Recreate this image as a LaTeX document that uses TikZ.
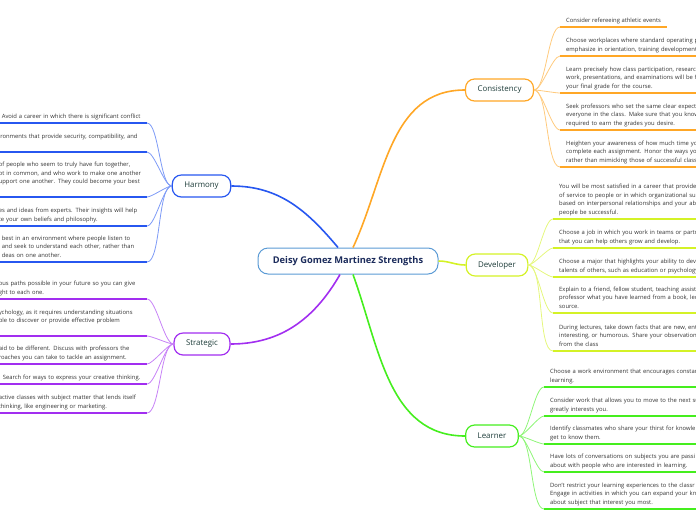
\documentclass[tikz,border=0pt]{standalone}
\usepackage{fontspec}
\setmainfont{Open Sans}
\definecolor{rootblue}{HTML}{5B9BD5}
\definecolor{rootnavy}{HTML}{1B2B5B}
\definecolor{topictext}{HTML}{1E3D3A}
\definecolor{itemtext}{HTML}{333333}
\definecolor{hblue}{HTML}{2757F0}
\definecolor{corange}{HTML}{FFA726}
\definecolor{dlime}{HTML}{D4F226}
\definecolor{lgreen}{HTML}{45EE1E}
\definecolor{spurple}{HTML}{A22EF0}
\begin{document}
\begin{tikzpicture}[
    x=1pt, y=-1pt,
    every node/.style={font=\fontsize{5.85}{8.6}\selectfont, text=itemtext},
    root/.style={draw=rootblue, line width=1pt, rounded corners=10pt, fill=white, minimum width=180pt, minimum height=26pt, inner sep=0pt, font=\fontsize{9.3}{11}\selectfont\bfseries, text=rootnavy},
    topic/.style={draw=#1, line width=1.2pt, rounded corners=9pt, fill=white, minimum height=22pt, inner xsep=12pt, inner ysep=0pt, font=\fontsize{7.9}{9}\selectfont, text=topictext},
    item/.style={align=left, inner xsep=6pt, inner ysep=2pt, execute at end node=\strut},
    ritem/.style={item, anchor=south west},
    rcut/.style={ritem, text width=150pt},
    litem/.style={item, anchor=south east, text width=148pt, inner xsep=0pt},
    branch/.style={draw=#1, line width=1.6pt},
    rlink/.style={draw=#1!60, line width=0.8pt, out=0, in=180, looseness=0.45},
    llink/.style={draw=#1!60, line width=0.8pt, out=180, in=0, looseness=0.45},
    uline/.style={draw=#1, line width=1.8pt}
]
\useasboundingbox (0,0) rectangle (696,520);

\node[root] (root) at (348,261) {Deisy Gomez Martinez Strengths};
\node[topic=hblue] (harmony) at (201.5,186) {Harmony};
\node[topic=corange] (cons) at (499.5,90) {Consistency};
\node[topic=dlime] (dev) at (497,265) {Developer};
\node[topic=lgreen] (learner) at (492,436) {Learner};
\node[topic=spurple] (strat) at (202,344) {Strategic};

\draw[branch=hblue] ([xshift=-10pt]root.north) to[out=130, in=0] (harmony.east);
\draw[branch=corange] ([xshift=5pt]root.north) to[out=65, in=180] (cons.west);
\draw[branch=dlime] (root.east) to[out=0, in=180] (dev.west);
\draw[branch=lgreen] ([xshift=5pt]root.south) to[out=-70, in=180] (learner.west);
\draw[branch=spurple] ([xshift=-8pt]root.south) to[out=-120, in=0] (strat.east);

\node[ritem] (c1) at (560,27) {Consider refereeing athletic events};
\node[rcut] (c2) at (560,56) {Choose workplaces where standard operating p\\emphasize in orientation, training development};
\node[rcut] (c3) at (560,93) {Learn precisely how class participation, researc\\work, presentations, and examinations will be f\\your final grade for the course.};
\node[rcut] (c4) at (560,130) {Seek professors who set the same clear expect\\everyone in the class. Make sure that you know\\required to earn the grades you desire.};
\node[rcut] (c5) at (560,167) {Heighten your awareness of how much time yo\\complete each assignment. Honor the ways yo\\rather than mimicking those of successful class};

\node[rcut] (d1) at (553,219) {You will be most satisfied in a career that provide\\of service to people or in which organizational suc\\based on interpersonal relationships and your ab\\people be successful.};
\node[rcut] (d2) at (553,248) {Choose a job in which you work in teams or partne\\that you can help others grow and develop.};
\node[rcut] (d3) at (553,277) {Choose a major that highlights your ability to deve\\talents of others, such as education or psychology};
\node[rcut] (d4) at (553,313) {Explain to a friend, fellow student, teaching assist\\professor what you have learned from a book, lec\\source.};
\node[rcut] (d5) at (553,351) {During lectures, take down facts that are new, ent\\interesting, or humorous. Share your observation\\from the class};

\node[rcut] (l1) at (544,387) {Choose a work environment that encourages constan\\learning.};
\node[rcut] (l2) at (544,416) {Consider work that allows you to move to the next su\\greatly interests you.};
\node[rcut] (l3) at (544,444) {Identify classmates who share your thirst for knowle\\get to know them.};
\node[rcut] (l4) at (544,472) {Have lots of conversations on subjects you are passi\\about with people who are interested in learning.};
\node[rcut] (l5) at (544,509) {Don't restrict your learning experiences to the classr\\Engage in activities in which you can expand your kno\\about subject that interest you most.};

\node[litem] (h1) at (147,123) {\hspace*{3pt}Avoid a career in which there is significant conflict};
\node[litem] (h2) at (147,152) {ironments that provide security, compatibility, and\\~};
\node[litem] (h3) at (147,197) {of people who seem to truly have fun together,\\ot in common, and who work to make one another\\upport one another. They could become your best\\~};
\node[litem] (h4) at (147,226) {es and ideas from experts. Their insights will help\\te your own beliefs and philosophy.};
\node[litem] (h5) at (147,262) {\hspace*{3pt}best in an environment where people listen to\\\hspace*{3pt}and seek to understand each other, rather than\\\hspace*{3pt}deas on one another.};

\node[litem] (s1) at (147,299) {ous paths possible in your future so you can give\\ght to each one.};
\node[litem] (s2) at (147,336) {ychology, as it requires understanding situations\\ble to discover or provide effective problem\\~};
\node[litem] (s3) at (147,364) {aid to be different. Discuss with professors the\\roaches you can take to tackle an assignment.};
\node[litem] (s4) at (147,384) {\hspace*{4pt}Search for ways to express your creative thinking.};
\node[litem] (s5) at (147,413) {active classes with subject matter that lends itself\\thinking, like engineering or marketing.};

\draw[rlink=corange] (cons.east) edge (c1.south west) edge (c2.south west) edge (c3.south west) edge (c4.south west) edge (c5.south west);
\draw[rlink=dlime] (dev.east) edge (d1.south west) edge (d2.south west) edge (d3.south west) edge (d4.south west) edge (d5.south west);
\draw[rlink=lgreen] (learner.east) edge (l1.south west) edge (l2.south west) edge (l3.south west) edge (l4.south west) edge (l5.south west);
\draw[llink=hblue] (harmony.west) edge (h1.south east) edge (h2.south east) edge (h3.south east) edge (h4.south east) edge (h5.south east);
\draw[llink=spurple] (strat.west) edge (s1.south east) edge (s2.south east) edge (s3.south east) edge (s4.south east) edge (s5.south east);

\draw[uline=corange] (c1.south west) -- (c1.south east) (c2.south west) -- (c2.south east) (c3.south west) -- (c3.south east) (c4.south west) -- (c4.south east) (c5.south west) -- (c5.south east);
\draw[uline=dlime] (d1.south west) -- (d1.south east) (d2.south west) -- (d2.south east) (d3.south west) -- (d3.south east) (d4.south west) -- (d4.south east) (d5.south west) -- (d5.south east);
\draw[uline=lgreen] (l1.south west) -- (l1.south east) (l2.south west) -- (l2.south east) (l3.south west) -- (l3.south east) (l4.south west) -- (l4.south east) (l5.south west) -- (l5.south east);
\draw[uline=hblue] (h1.south west) -- (h1.south east) (h2.south west) -- (h2.south east) (h3.south west) -- (h3.south east) (h4.south west) -- (h4.south east) (h5.south west) -- (h5.south east);
\draw[uline=spurple] (s1.south west) -- (s1.south east) (s2.south west) -- (s2.south east) (s3.south west) -- (s3.south east) (s4.south west) -- (s4.south east) (s5.south west) -- (s5.south east);
\end{tikzpicture}
\end{document}
